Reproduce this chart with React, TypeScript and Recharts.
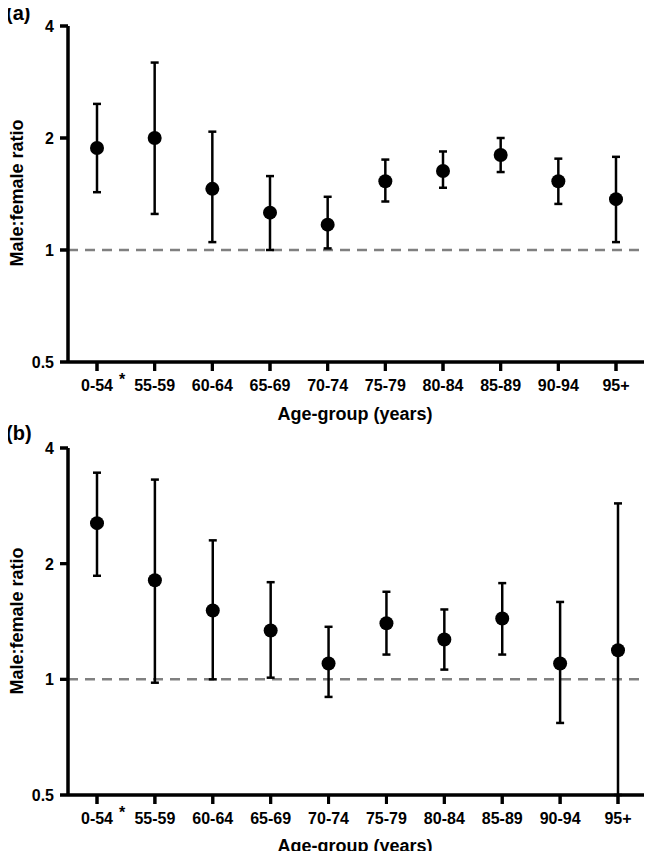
import { ComposedChart, XAxis, YAxis, Line, ErrorBar, ReferenceLine } from "recharts"

const groups = ['0-54', '55-59', '60-64', '65-69', '70-74', '75-79', '80-84', '85-89', '90-94', '95+']
const starred = ['0-54']
const yTicks = [0.5, 1, 2, 4]

// panel (a)
const ratioA = [1.88, 2.0, 1.46, 1.26, 1.17, 1.53, 1.63, 1.8, 1.53, 1.37]
const lowerA = [1.43, 1.25, 1.05, 1.0, 1.01, 1.35, 1.47, 1.62, 1.33, 1.05]
const upperA = [2.47, 3.19, 2.08, 1.58, 1.39, 1.75, 1.84, 2.0, 1.76, 1.78]

// panel (b)
const ratioB = [2.55, 1.81, 1.51, 1.34, 1.1, 1.4, 1.27, 1.44, 1.1, 1.19]
const lowerB = [1.86, 0.98, 1.0, 1.01, 0.9, 1.16, 1.06, 1.16, 0.77, 0.5]
const upperB = [3.45, 3.31, 2.3, 1.79, 1.37, 1.69, 1.52, 1.78, 1.59, 2.87]

const font = "'Liberation Sans', Arial, sans-serif"
const X_TICK = 9
const X_MARGIN = 2
const Y_TICK = 8
const Y_MARGIN = 6

function build(ratio: number[], lower: number[], upper: number[]) {
  return groups.map((g, i) => ({
    name: g,
    value: ratio[i],
    err: [ratio[i] - lower[i], upper[i] - ratio[i]],
  }))
}

const AgeTick = (props: any) => {
  const { x, y, payload } = props
  return (
    <g>
      <line x1={x} x2={x} y1={y - X_MARGIN - X_TICK} y2={y - X_MARGIN} stroke="#000" strokeWidth={3} />
      <text x={x} y={y + 18} textAnchor="middle" fill="#000" fontSize={16} fontWeight="bold" fontFamily={font}>
        {payload.value}
      </text>
      {starred.includes(payload.value) && (
        <text x={x + 25} y={y + 12} textAnchor="middle" fill="#000" fontSize={16} fontWeight="bold" fontFamily={font}>
          *
        </text>
      )}
    </g>
  )
}

const RatioTick = (props: any) => {
  const { x, y, payload } = props
  return (
    <g>
      <line x1={x + Y_MARGIN} x2={x + Y_MARGIN + Y_TICK} y1={y} y2={y} stroke="#000" strokeWidth={3} />
      <text x={x} y={y + 6} textAnchor="end" fill="#000" fontSize={16} fontWeight="bold" fontFamily={font}>
        {String(payload.value)}
      </text>
    </g>
  )
}

function panel(data: any[], height: number, margin: { top: number; right: number; left: number; bottom: number }) {
  return (
    <ComposedChart width={652} height={height} data={data} margin={margin}>
      <XAxis
        dataKey="name"
        height={30}
        tickSize={X_TICK}
        tickMargin={X_MARGIN}
        padding={{ left: 29, right: 29 }}
        axisLine={{ stroke: '#000', strokeWidth: 3 }}
        tickLine={{ stroke: '#000', strokeWidth: 3 }}
        tick={<AgeTick />}
        interval={0}
      />
      <XAxis xAxisId="edge" type="number" domain={[0, 1]} hide />
      <YAxis
        width={68}
        type="number"
        scale="log"
        domain={[0.5, 4]}
        ticks={yTicks}
        tickSize={Y_TICK}
        tickMargin={Y_MARGIN}
        axisLine={{ stroke: '#000', strokeWidth: 3 }}
        tickLine={{ stroke: '#000', strokeWidth: 3 }}
        tick={<RatioTick />}
      />
      <ReferenceLine y={1} stroke="#808080" strokeWidth={2.5} strokeDasharray="10 7" />
      <ReferenceLine y={0.5} stroke="#000" strokeWidth={3} />
      <ReferenceLine xAxisId="edge" x={0} stroke="#000" strokeWidth={3} />
      <Line dataKey="value" stroke="none" isAnimationActive={false} dot={{ r: 7, fill: '#000' }}>
        <ErrorBar dataKey="err" direction="y" width={4} stroke="#000" strokeWidth={2.5} />
      </Line>
    </ComposedChart>
  )
}

const titleStyle: any = {
  position: 'absolute',
  fontFamily: font,
  fontWeight: 'bold',
  fontSize: 18,
  color: '#000',
  whiteSpace: 'nowrap',
  lineHeight: 1,
}

function App() {
  return (
    <div style={{ position: 'relative', margin: -8, width: 652, height: 859 }}>
      <div style={{ height: 430 }}>
        {panel(build(ratioA, lowerA, upperA), 430, { top: 26, right: 7, left: 0, bottom: 38 })}
      </div>
      <div style={{ height: 429 }}>
        {panel(build(ratioB, lowerB, upperB), 429, { top: 18, right: 5, left: 0, bottom: 34 })}
      </div>

      <div style={{ ...titleStyle, left: 6, top: 3, fontSize: 20 }}>(a)</div>
      <div style={{ ...titleStyle, left: 6, top: 423, fontSize: 20 }}>(b)</div>

      <div style={{ ...titleStyle, left: 355, top: 414, transform: 'translate(-50%, -50%)' }}>Age-group (years)</div>
      <div style={{ ...titleStyle, left: 355, top: 846, transform: 'translate(-50%, -50%)' }}>Age-group (years)</div>

      <div style={{ ...titleStyle, left: 17, top: 193, transform: 'translate(-50%, -50%) rotate(-90deg)' }}>Male:female ratio</div>
      <div style={{ ...titleStyle, left: 17, top: 621, transform: 'translate(-50%, -50%) rotate(-90deg)' }}>Male:female ratio</div>
    </div>
  )
}

export default App
